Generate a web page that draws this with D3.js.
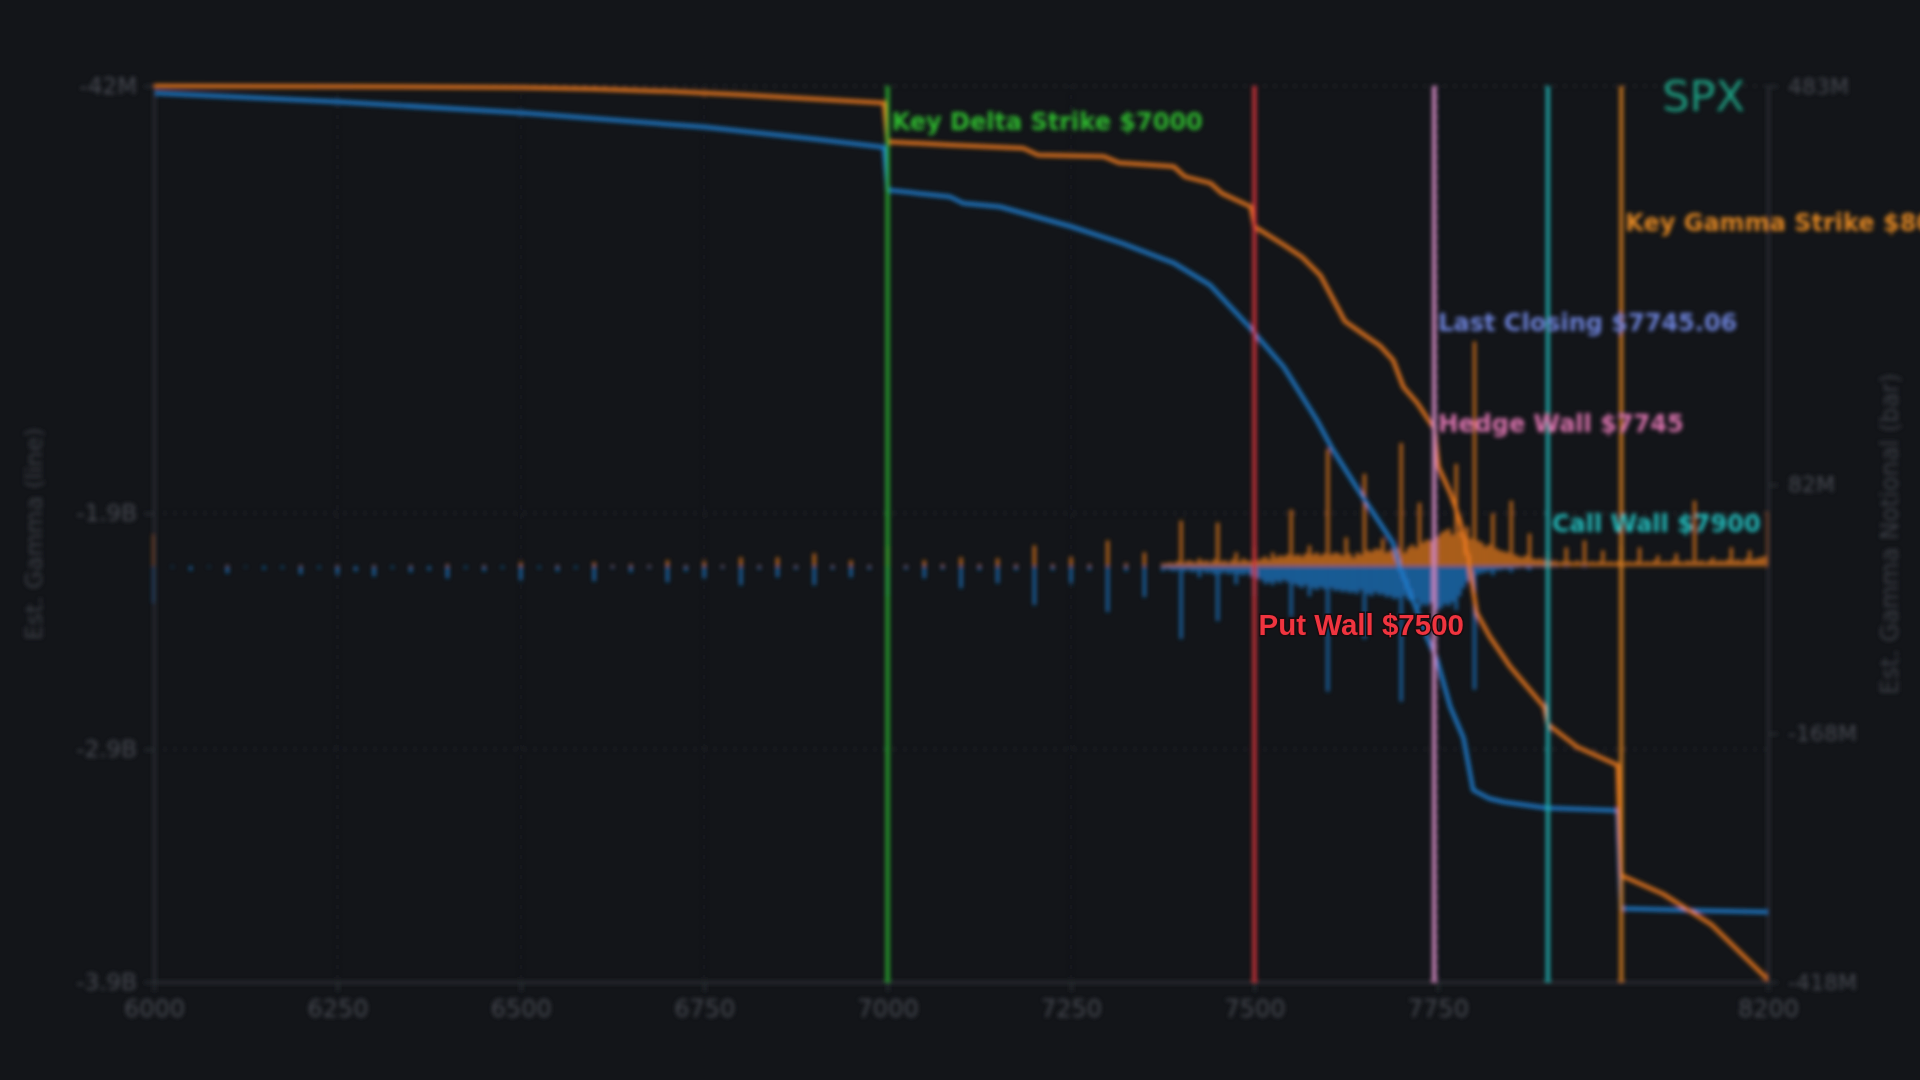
<!DOCTYPE html>
<html><head><meta charset="utf-8">
<script src="https://cdn.jsdelivr.net/npm/d3@7"></script>
<style>
html,body{margin:0;padding:0;background:#131519;}
svg{display:block;}
</style></head>
<body>
<svg id="chart" width="1920" height="1080"></svg>
<script>
// ---------- DATA ----------
const chartTitle = "SPX";
const xTickValues = [6000, 6250, 6500, 6750, 7000, 7250, 7500, 7750, 8200];
const leftTickValues = [-42, -1882, -2898, -3900];          // Est. Gamma (line), millions
const leftTickLabels = ["-42M", "-1.9B", "-2.9B", "-3.9B"];
const rightTickValues = [483, 82, -168, -418];               // Est. Gamma Notional (bar), millions
const rightTickLabels = ["483M", "82M", "-168M", "-418M"];

const strikes = [
 6000,6025,6050,6075,6100,6125,6150,6175,6200,6225,6250,6275,6300,6325,6350,6375,6400,6425,6450,6475,
 6500,6525,6550,6575,6600,6625,6650,6675,6700,6725,6750,6775,6800,6825,6850,6875,6900,6925,6950,6975,
 7000,7025,7050,7075,7100,7125,7150,7175,7200,7225,7250,7275,7300,7325,7350,7375,
 7380,7385,7390,7395,7400,7405,7410,7415,7420,7425,7430,7435,7440,7445,7450,7455,7460,7465,7470,7475,
 7480,7485,7490,7495,7500,7505,7510,7515,7520,7525,7530,7535,7540,7545,7550,7555,7560,7565,7570,7575,
 7580,7585,7590,7595,7600,7605,7610,7615,7620,7625,7630,7635,7640,7645,7650,7655,7660,7665,7670,7675,
 7680,7685,7690,7695,7700,7705,7710,7715,7720,7725,7730,7735,7740,7745,7750,7755,7760,7765,7770,7775,
 7780,7785,7790,7795,7800,7805,7810,7815,7820,7825,7830,7835,7840,7845,7850,7855,7860,7865,7870,7875,
 7880,7885,7890,7895,
 7900,7905,7910,7915,7920,7925,7930,7935,7940,7945,7950,7955,7960,7965,7970,7975,7980,7985,7990,7995,
 8000,8005,8010,8015,8020,8025,8030,8035,8040,8045,8050,8055,8060,8065,8070,8075,8080,8085,8090,8095,
 8100,8105,8110,8115,8120,8125,8130,8135,8140,8145,8150,8155,8160,8165,8170,8175,8180,8185,8190,8195,8200
];
const callNotional = [
 32,0,0,0,1,0,0,0,1,0,1,0,1,0,1,0,2,0,1,0,
 4,0,1,0,4,1,2,1,6,1,5,1,9,1,9,1,13,1,6,1,
 20,1,6,2,9,2,8,2,21,2,9,2,26,3,14,3,
 3,4,3,5,46,4,6,5,4,8,5,6,4,7,44,5,6,4,7,14,
 5,8,6,5,20,6,8,10,7,14,9,11,10,12,57,11,12,10,13,21,
 12,14,11,13,118,12,14,13,11,29,13,9,14,12,93,16,15,18,17,28,
 14,16,20,18,124,14,19,22,19,64,24,27,26,30,30,34,36,38,32,103,
 35,30,40,28,226,26,24,20,22,53,18,16,15,14,66,12,10,9,11,33,
 8,7,8,6,
 14,5,6,4,5,19,5,4,6,4,26,4,5,4,5,16,4,5,4,5,
 20,4,5,4,5,19,4,5,4,6,11,4,5,4,6,13,5,4,6,5,
 66,5,6,4,6,9,5,6,5,7,19,6,7,5,8,16,7,8,9,10,55
];
const putNotional = [
 -37,-1,-4,-1,-7,-1,-3,-2,-8,-2,-8,-5,-10,-2,-6,-4,-12,-2,-5,-2,
 -14,-2,-5,-2,-15,-2,-6,-2,-16,-5,-12,-2,-19,-3,-11,-3,-19,-3,-11,-3,
 -30,-3,-12,-3,-22,-4,-17,-4,-39,-4,-17,-4,-46,-5,-31,-5,
 -3,-4,-5,-4,-73,-5,-4,-6,-5,-11,-5,-7,-6,-8,-55,-7,-6,-8,-7,-18,
 -8,-9,-7,-10,-30,-12,-14,-18,-16,-19,-15,-17,-14,-16,-51,-18,-20,-22,-19,-30,
 -22,-24,-21,-23,-126,-22,-25,-24,-26,-25,-27,-26,-28,-24,-73,-28,-30,-26,-29,-28,
 -31,-30,-33,-32,-136,-30,-34,-36,-33,-42,-38,-40,-37,-45,-44,-42,-38,-40,-36,-44,
 -30,-22,-16,-12,-124,-8,-7,-6,-5,-9,-4,-4,-3,-3,-6,-2,-2,-1,-2,-4,
 -1,-1,-1,-1,
 -1,0,-1,0,0,-1,0,0,0,0,-1,0,0,0,0,0,0,0,0,0,
 -1,0,0,0,0,0,0,0,0,0,0,0,0,0,0,0,0,0,0,0,
 0,0,0,0,0,0,0,0,0,0,0,0,0,0,0,0,0,0,0,0,0
];

// Cumulative gamma lines (millions)
const orangeStrikes = [6000,6250,6500,6600,6700,6750,6800,6900,6995,7000,7085,7185,7205,7295,7315,7390,7405,7440,7455,7495,7500,7540,7565,7590,7623,7657,7671,7689,7703,7722,7740,7745,7751,7767,7780,7791,7803,7821,7849,7872,7895,7900,7940,7995,8000,8057,8123,8200];
const orangeValues  = [-42,-44,-48,-55,-65,-72,-80,-98,-115,-282,-296,-310,-339,-346,-372,-389,-432,-460,-503,-562,-647,-726,-779,-858,-1054,-1130,-1160,-1222,-1338,-1407,-1493,-1517,-1683,-1795,-1911,-2070,-2311,-2414,-2544,-2630,-2716,-2790,-2888,-2966,-3441,-3521,-3653,-3890];
const blueStrikes = [6000,6250,6500,6750,6900,6995,7000,7085,7103,7153,7250,7320,7390,7440,7490,7540,7585,7607,7644,7689,7698,7716,7735,7749,7767,7785,7798,7820,7840,7898,7995,8000,8200];
const blueValues  = [-72,-110,-157,-219,-270,-306,-490,-519,-547,-562,-647,-720,-804,-900,-1069,-1252,-1480,-1609,-1794,-2010,-2113,-2255,-2414,-2514,-2716,-2850,-3073,-3110,-3125,-3151,-3162,-3584,-3599];

// Key levels
const levelNames  = ["Key Delta Strike", "Key Gamma Strike", "Last Closing", "Hedge Wall", "Call Wall", "Put Wall"];
const levelValues = [7000, 8000, 7745.06, 7745, 7900, 7500];

// ---------- STYLE ----------
const levelColors = ["#2bb02f", "#d9801e", "#6b80d4", "#dc86ba", "#1fb3b5", "#e0343e"];
const levelLabelColors = ["#2db82d", "#dd8420", "#6b80d6", "#d872ac", "#20b8b8", "#f0343f"];
const callColor = "#e87c1c", putColor = "#1f78c8";
const orangeLine = "#e8771f", blueLine = "#1f7ccc";
const axisColor = "#2e3137", tickText = "#474a51", titleText = "#3b3e45";
const font = "'DejaVu Sans', 'Open Sans', sans-serif";

const M = {left:154, right:1768, top:86, bottom:982};
const svg = d3.select("#chart");
const x  = d3.scaleLinear().domain([6000, 8200]).range([M.left, M.right]);
const yL = d3.scaleLinear().domain([-3900, -42]).range([M.bottom, M.top]);
const yR = d3.scaleLinear().domain([-418, 483]).range([M.bottom, M.top]);

const defs = svg.append("defs");
defs.append("filter").attr("id","soft").attr("x","-5%").attr("y","-5%").attr("width","110%").attr("height","110%")
  .append("feGaussianBlur").attr("stdDeviation", 1.9);

const g = svg.append("g").attr("filter","url(#soft)");

// grid
g.append("g").selectAll("line").data(leftTickValues.slice(0,3)).join("line")
  .attr("x1", M.left).attr("x2", M.right).attr("y1", d=>yL(d)).attr("y2", d=>yL(d))
  .attr("stroke", "#33363d").attr("stroke-width", 2).attr("stroke-dasharray", "2,8");
g.append("g").selectAll("line").data(xTickValues.slice(1, -1)).join("line")
  .attr("x1", d=>x(d)).attr("x2", d=>x(d)).attr("y1", M.top).attr("y2", M.bottom)
  .attr("stroke", "#25282e").attr("stroke-width", 2).attr("stroke-dasharray", "2,8");

// bars
const bw = 2.8;
const bars = g.append("g");
bars.selectAll("rect.call").data(strikes.map((s,i)=>({s, v:callNotional[i]}))).join("rect")
  .attr("class","call").attr("x", d=>x(d.s)-bw/2).attr("width", bw)
  .attr("y", d=>yR(Math.max(0,d.v))).attr("height", d=>Math.abs(yR(d.v)-yR(0)))
  .attr("fill", callColor).attr("opacity", 0.92);
bars.selectAll("rect.put").data(strikes.map((s,i)=>({s, v:putNotional[i]}))).join("rect")
  .attr("class","put").attr("x", d=>x(d.s)-bw/2).attr("width", bw)
  .attr("y", yR(0)).attr("height", d=>Math.abs(yR(d.v)-yR(0)))
  .attr("fill", putColor).attr("opacity", 0.92);

// lines
const line = d3.line().x(d=>x(d[0])).y(d=>yL(d[1]));
g.append("path").datum(blueStrikes.map((s,i)=>[s, blueValues[i]]))
  .attr("d", line).attr("fill","none").attr("stroke", blueLine).attr("stroke-width", 4).attr("stroke-linejoin","round");
g.append("path").datum(orangeStrikes.map((s,i)=>[s, orangeValues[i]]))
  .attr("d", line).attr("fill","none").attr("stroke", orangeLine).attr("stroke-width", 4).attr("stroke-linejoin","round");

// axes
function styleAxis(sel, fs){
  sel.select(".domain").attr("stroke", axisColor).attr("stroke-width", 2.5);
  sel.selectAll(".tick line").attr("stroke", axisColor).attr("stroke-width", 2);
  sel.selectAll(".tick text").attr("fill", tickText).style("font-family", font).style("font-size", fs+"px");
}
const axL = g.append("g").attr("transform", `translate(${M.left},0)`)
  .call(d3.axisLeft(yL).tickValues(leftTickValues).tickFormat((d,i)=>leftTickLabels[i]).tickSize(10).tickPadding(7).tickSizeOuter(0));
styleAxis(axL, 23);
const axR = g.append("g").attr("transform", `translate(${M.right},0)`)
  .call(d3.axisRight(yR).tickValues(rightTickValues).tickFormat((d,i)=>rightTickLabels[i]).tickSize(10).tickPadding(10).tickSizeOuter(0));
styleAxis(axR, 22);
const axB = g.append("g").attr("transform", `translate(0,${M.bottom})`)
  .call(d3.axisBottom(x).tickValues(xTickValues).tickFormat(d3.format("d")).tickSize(10).tickPadding(8).tickSizeOuter(0));
styleAxis(axB, 24);

// axis titles
g.append("text").attr("transform", `translate(34,${(M.top+M.bottom)/2}) rotate(-90)`)
  .attr("text-anchor","middle").attr("dominant-baseline","central")
  .attr("fill", titleText).style("font-family", font).style("font-size","23.5px").text("Est. Gamma (line)");
g.append("text").attr("transform", `translate(1890,${(M.top+M.bottom)/2}) rotate(-90)`)
  .attr("text-anchor","middle").attr("dominant-baseline","central")
  .attr("fill", titleText).style("font-family", font).style("font-size","24px").text("Est. Gamma Notional (bar)");

// level lines
const levels = levelNames.map((n,i)=>({name:n, value:levelValues[i], i}));
const drawOrder = [2,0,1,3,4,5];
g.append("g").selectAll("line").data(drawOrder.map(i=>levels[i])).join("line")
  .attr("x1", d=>x(d.value)).attr("x2", d=>x(d.value)).attr("y1", M.top).attr("y2", M.bottom)
  .attr("stroke", d=>levelColors[d.i]).attr("stroke-width", 4).attr("opacity", 0.9);

// level labels (all but put wall blurred)
const labelY = i => 122 + i*100.5;
const fmtLevel = d => `${d.name} $${d.value}`;
g.append("g").selectAll("text").data(levels.filter(d=>d.name!=="Put Wall")).join("text")
  .attr("x", d=>x(d.value)+4).attr("y", d=>labelY(d.i)).attr("dominant-baseline","central")
  .attr("fill", d=>levelLabelColors[d.i]).style("font-family", font).style("font-weight", 700).style("font-size","24px")
  .text(fmtLevel);

// title
g.append("text").attr("x", 1745).attr("y", 96).attr("text-anchor","end").attr("dominant-baseline","central")
  .attr("fill", "#1f9c80").style("font-family", font).style("font-size","43px").text(chartTitle);

// sharp put wall label
const pw = levels.find(d=>d.name==="Put Wall");
svg.append("text").attr("x", x(pw.value)+4).attr("y", labelY(pw.i)).attr("dominant-baseline","central")
  .attr("fill", levelLabelColors[pw.i]).attr("stroke", "#1a0c0f").attr("stroke-width", 3).attr("paint-order","stroke")
  .style("font-family", "'Liberation Sans', Arial, sans-serif").style("font-weight", 700).style("font-size","29.5px")
  .text(fmtLevel(pw));
</script>
</body></html>
